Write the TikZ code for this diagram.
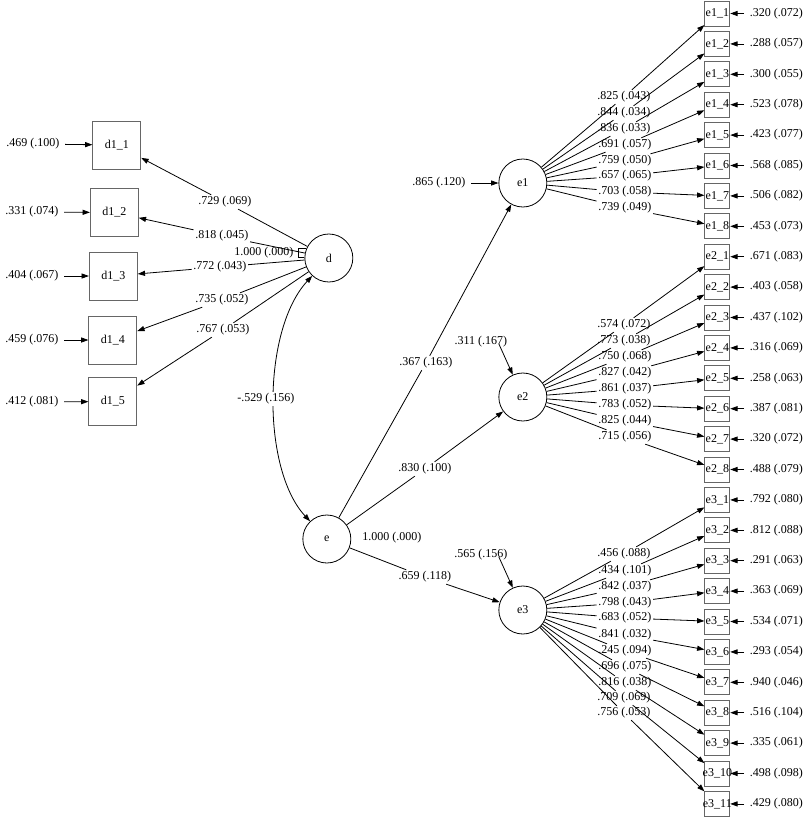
\documentclass[tikz,border=0pt]{standalone}
\usepackage{fontspec}
\setmainfont{Liberation Serif}
\usetikzlibrary{arrows.meta}
\newcommand{\itemlbl}[1]{\makebox[0pt]{#1}}

\begin{document}
\begin{tikzpicture}[x=0.75pt,y=0.75pt,yscale=-1,xscale=1,line width=0.6pt,
  font=\fontsize{9}{10}\selectfont,
  >={Triangle[length=5.5pt,width=3.8pt]},
  latent/.style={circle,draw,minimum size=36pt,inner sep=0pt},
  obsbig/.style={rectangle,draw=black!60,minimum size=36pt,inner sep=0pt},
  obssmall/.style={rectangle,draw=black!60,minimum size=18.75pt,inner sep=0pt},
  est/.style={inner sep=1pt},
  resid/.style={inner xsep=4pt,inner ysep=1pt}]
%set diagram size
\path (0,0) rectangle (800,818);

%Shape: Circle
\node[latent] (d) at (326,258) {d};
\node[latent] (e) at (324,539) {e};
\node[latent] (e1) at (520,183) {e1};
\node[latent] (e2) at (520,397) {e2};
\node[latent] (e3) at (520,610) {e3};

%Shape: Square
\node[obsbig] (d11) at (114,145) {d1\_1};
\node[obsbig] (d12) at (111.5,212.5) {d1\_2};
\node[obsbig] (d13) at (110.5,276) {d1\_3};
\node[obsbig] (d14) at (110,340) {d1\_4};
\node[obsbig] (d15) at (110,401.5) {d1\_5};

%Shape: Square
\node[obssmall] (e11) at (714.5,13.5) {\itemlbl{e1\_1}};
\node[obssmall] (e12) at (714.5,43.9) {\itemlbl{e1\_2}};
\node[obssmall] (e13) at (714.5,74.3) {\itemlbl{e1\_3}};
\node[obssmall] (e14) at (714.5,104.7) {\itemlbl{e1\_4}};
\node[obssmall] (e15) at (714.5,135.1) {\itemlbl{e1\_5}};
\node[obssmall] (e16) at (714.5,165.5) {\itemlbl{e1\_6}};
\node[obssmall] (e17) at (714.5,195.9) {\itemlbl{e1\_7}};
\node[obssmall] (e18) at (714.5,226.3) {\itemlbl{e1\_8}};
\node[obssmall] (e21) at (714.5,256.7) {\itemlbl{e2\_1}};
\node[obssmall] (e22) at (714.5,287.1) {\itemlbl{e2\_2}};
\node[obssmall] (e23) at (714.5,317.5) {\itemlbl{e2\_3}};
\node[obssmall] (e24) at (714.5,347.9) {\itemlbl{e2\_4}};
\node[obssmall] (e25) at (714.5,378.3) {\itemlbl{e2\_5}};
\node[obssmall] (e26) at (714.5,408.7) {\itemlbl{e2\_6}};
\node[obssmall] (e27) at (714.5,439.1) {\itemlbl{e2\_7}};
\node[obssmall] (e28) at (714.5,469.5) {\itemlbl{e2\_8}};
\node[obssmall] (e31) at (714.5,499.9) {\itemlbl{e3\_1}};
\node[obssmall] (e32) at (714.5,530.3) {\itemlbl{e3\_2}};
\node[obssmall] (e33) at (714.5,560.7) {\itemlbl{e3\_3}};
\node[obssmall] (e34) at (714.5,591.1) {\itemlbl{e3\_4}};
\node[obssmall] (e35) at (714.5,621.5) {\itemlbl{e3\_5}};
\node[obssmall] (e36) at (714.5,651.9) {\itemlbl{e3\_6}};
\node[obssmall] (e37) at (714.5,682.3) {\itemlbl{e3\_7}};
\node[obssmall] (e38) at (714.5,712.7) {\itemlbl{e3\_8}};
\node[obssmall] (e39) at (714.5,743.1) {\itemlbl{e3\_9}};
\node[obssmall] (e310) at (714.5,773.5) {\itemlbl{e3\_10}};
\node[obssmall] (e311) at (714.5,803.9) {\itemlbl{e3\_11}};

% Text Node
\node[resid] (rd11) at (30,144) {.469 (.100)};
\node[resid] (rd12) at (29,212) {.331 (.074)};
\node[resid] (rd13) at (29,276) {.404 (.067)};
\node[resid] (rd14) at (29,340) {.459 (.076)};
\node[resid] (rd15) at (29,402) {.412 (.081)};
% Text Node
\node[est] (ld11) at (222,202) {.729 (.069)};
\node[est] (ld12) at (219,236) {.818 (.045)};
\node[est] (ld13) at (217,267) {.772 (.043)};
\node[est] (ld14) at (219,300) {.735 (.052)};
\node[est] (ld15) at (220,330) {.767 (.053)};
\node[est] (vd) at (261,253) {1.000 (.000)};
% Text Node
\node[est] (le1) at (423,363) {.367 (.163)};
\node[est] (le2) at (422,469) {.830 (.100)};
\node[est] (le3) at (422,577) {.659 (.118)};
\node[est] (ve) at (389,538) {1.000 (.000)};
\node[resid] (re1) at (436,183) {.865 (.120)};
\node[est] (re2) at (478,342) {.311 (.167)};
\node[est] (re3) at (478,555) {.565 (.156)};

% Text Node
\node[est] (le11) at (621,97) {.825 (.043)};
\node[est] (le12) at (621,113) {.844 (.034)};
\node[est] (le13) at (621,129) {.836 (.033)};
\node[est] (le14) at (622,145) {.691 (.057)};
\node[est] (le15) at (622,161) {.759 (.050)};
\node[est] (le16) at (622,176) {.657 (.065)};
\node[est] (le17) at (622,192) {.703 (.058)};
\node[est] (le18) at (622,208) {.739 (.049)};
% Text Node
\node[est] (le21) at (621,325) {.574 (.072)};
\node[est] (le22) at (621,341) {.773 (.038)};
\node[est] (le23) at (622,357) {.750 (.068)};
\node[est] (le24) at (622,373) {.827 (.042)};
\node[est] (le25) at (622,389) {.861 (.037)};
\node[est] (le26) at (622,405) {.783 (.052)};
\node[est] (le27) at (622,421) {.825 (.044)};
\node[est] (le28) at (622,437) {.715 (.056)};
% Text Node
\node[est] (le31) at (621,554) {.456 (.088)};
\node[est] (le32) at (622,571) {.434 (.101)};
\node[est] (le33) at (622,587) {.842 (.037)};
\node[est] (le34) at (622,603) {.798 (.043)};
\node[est] (le35) at (622,618) {.683 (.052)};
\node[est] (le36) at (622,635) {.841 (.032)};
\node[est] (le37) at (622,651) {.245 (.094)};
\node[est] (le38) at (622,667) {.696 (.075)};
\node[est] (le39) at (622,683) {.816 (.038)};
\node[est] (le310) at (621,698) {.709 (.069)};
\node[est] (le311) at (621,713) {.756 (.053)};

% Text Node
\node[resid] (re11) at (773.5,13.5) {.320 (.072)};
\node[resid] (re12) at (773.5,43.9) {.288 (.057)};
\node[resid] (re13) at (773.5,74.3) {.300 (.055)};
\node[resid] (re14) at (773.5,104.7) {.523 (.078)};
\node[resid] (re15) at (773.5,135.1) {.423 (.077)};
\node[resid] (re16) at (773.5,165.5) {.568 (.085)};
\node[resid] (re17) at (773.5,195.9) {.506 (.082)};
\node[resid] (re18) at (773.5,226.3) {.453 (.073)};
\node[resid] (re21) at (773.5,256.7) {.671 (.083)};
\node[resid] (re22) at (773.5,287.1) {.403 (.058)};
\node[resid] (re23) at (773.5,317.5) {.437 (.102)};
\node[resid] (re24) at (773.5,347.9) {.316 (.069)};
\node[resid] (re25) at (773.5,378.3) {.258 (.063)};
\node[resid] (re26) at (773.5,408.7) {.387 (.081)};
\node[resid] (re27) at (773.5,439.1) {.320 (.072)};
\node[resid] (re28) at (773.5,469.5) {.488 (.079)};
\node[resid] (re31) at (773.5,499.9) {.792 (.080)};
\node[resid] (re32) at (773.5,530.3) {.812 (.088)};
\node[resid] (re33) at (773.5,560.7) {.291 (.063)};
\node[resid] (re34) at (773.5,591.1) {.363 (.069)};
\node[resid] (re35) at (773.5,621.5) {.534 (.071)};
\node[resid] (re36) at (773.5,651.9) {.293 (.054)};
\node[resid] (re37) at (773.5,682.3) {.940 (.046)};
\node[resid] (re38) at (773.5,712.7) {.516 (.104)};
\node[resid] (re39) at (773.5,743.1) {.335 (.061)};
\node[resid] (re310) at (773.5,773.5) {.498 (.098)};
\node[resid] (re311) at (773.5,803.9) {.429 (.080)};

%Straight Lines
\draw[->] (rd11) -- (d11);
\draw[->] (rd12) -- (d12);
\draw[->] (rd13) -- (d13);
\draw[->] (rd14) -- (d14);
\draw[->] (rd15) -- (d15);
\draw[->] (d) -- (ld11) -- (d11);
\draw[->] (d) -- (ld12) -- (d12);
\draw[->] (d) -- (ld13) -- (d13);
\draw[->] (d) -- (ld14) -- (d14);
\draw[->] (d) -- (ld15) -- (d15);
\draw (d.157) -- ++(-8,0) |- (d.178);

%Curve Lines
\draw[<->] (d) .. controls (259,330) and (259,470) .. (e);
\node[est,fill=white] (lde) at (263,399) {-.529 (.156)};

%Straight Lines
\draw[->] (e) -- (le1) -- (e1);
\draw[->] (e) -- (le2) -- (e2);
\draw[->] (e) -- (le3) -- (e3);
\draw[->] (re1) -- (e1);
\draw[->] ([xshift=13.5pt,yshift=-4pt]re2.south) -- (e2);
\draw[->] ([xshift=13.5pt,yshift=-4pt]re3.south) -- (e3);

%Straight Lines
\draw[->] (e1) -- (le11) -- (e11);
\draw[->] (e1) -- (le12) -- (e12);
\draw[->] (e1) -- (le13) -- (e13);
\draw[->] (e1) -- (le14) -- (e14);
\draw[->] (e1) -- (le15) -- (e15);
\draw[->] (e1) -- (le16) -- (e16);
\draw[->] (e1) -- (le17) -- (e17);
\draw[->] (e1) -- (le18) -- (e18);
\draw[->] (e2) -- (le21) -- (e21);
\draw[->] (e2) -- (le22) -- (e22);
\draw[->] (e2) -- (le23) -- (e23);
\draw[->] (e2) -- (le24) -- (e24);
\draw[->] (e2) -- (le25) -- (e25);
\draw[->] (e2) -- (le26) -- (e26);
\draw[->] (e2) -- (le27) -- (e27);
\draw[->] (e2) -- (le28) -- (e28);
\draw[->] (e3) -- (le31) -- (e31);
\draw[->] (e3) -- (le32) -- (e32);
\draw[->] (e3) -- (le33) -- (e33);
\draw[->] (e3) -- (le34) -- (e34);
\draw[->] (e3) -- (le35) -- (e35);
\draw[->] (e3) -- (le36) -- (e36);
\draw[->] (e3) -- (le37) -- (e37);
\draw[->] (e3) -- (le38) -- (e38);
\draw[->] (e3) -- (le39) -- (e39);
\draw[->] (e3) -- (le310) -- (e310);
\draw[->] (e3) -- (le311) -- (e311);

%Straight Lines
\draw[->] (re11) -- (e11);
\draw[->] (re12) -- (e12);
\draw[->] (re13) -- (e13);
\draw[->] (re14) -- (e14);
\draw[->] (re15) -- (e15);
\draw[->] (re16) -- (e16);
\draw[->] (re17) -- (e17);
\draw[->] (re18) -- (e18);
\draw[->] (re21) -- (e21);
\draw[->] (re22) -- (e22);
\draw[->] (re23) -- (e23);
\draw[->] (re24) -- (e24);
\draw[->] (re25) -- (e25);
\draw[->] (re26) -- (e26);
\draw[->] (re27) -- (e27);
\draw[->] (re28) -- (e28);
\draw[->] (re31) -- (e31);
\draw[->] (re32) -- (e32);
\draw[->] (re33) -- (e33);
\draw[->] (re34) -- (e34);
\draw[->] (re35) -- (e35);
\draw[->] (re36) -- (e36);
\draw[->] (re37) -- (e37);
\draw[->] (re38) -- (e38);
\draw[->] (re39) -- (e39);
\draw[->] (re310) -- (e310);
\draw[->] (re311) -- (e311);

\end{tikzpicture}
\end{document}
